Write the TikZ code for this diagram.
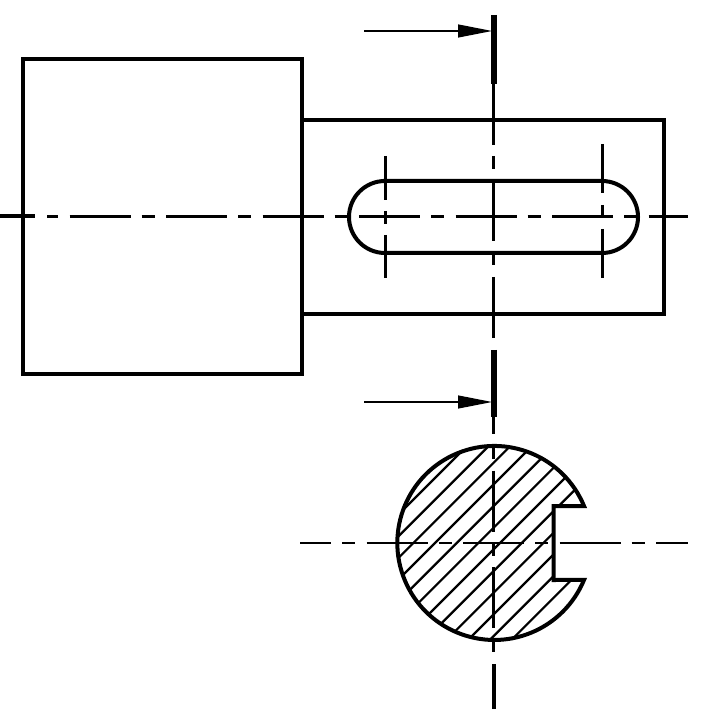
\documentclass[tikz,border=0pt]{standalone}
\usepackage{xcolor}
\usepackage{tikz}
\usetikzlibrary{arrows.meta}
\tikzset{
  outline/.style={line width=0.04cm,line join=miter},
  centerline/.style={line width=0.022cm,dash pattern=on 0.61cm off 0.11cm on 0.13cm off 0.115cm},
  cutmark/.style={line width=0.06cm},
  viewarrow/.style={line width=0.012cm,-{Triangle[length=0.34cm,width=0.13cm]}},
  hatchline/.style={line width=0.022cm}
}
\begin{document}
\begin{tikzpicture}
\useasboundingbox (0,0) rectangle (7.03,-7.11);
% section hatching
\begin{scope}
  \clip (5.84,-5.06) arc (22.4:337.6:0.97) -- (5.535,-5.80) -- (5.535,-5.06) -- cycle;
  \foreach \c in {9.13,9.347,9.563,9.78,9.997,10.213,10.43,10.647,10.863,11.08,11.297,11.513}
    \draw[hatchline] ({\c-4.4},-4.4)--({\c-6.6},-6.6);
\end{scope}
% views
\draw[outline] (0.225,-0.595) rectangle (3.015,-3.74);
\draw[outline] (3.015,-1.2)--(6.635,-1.2)--(6.635,-3.14)--(3.015,-3.14);
\draw[outline] (3.85,-1.81)--(6.02,-1.81) arc (90:-90:0.36)--(3.85,-2.53) arc (270:90:0.36)--cycle;
\draw[outline] (5.84,-5.06) arc (22.4:337.6:0.97)--(5.535,-5.80)--(5.535,-5.06)--cycle;
% center lines
\draw[line width=0.04cm] (0,-2.165)--(0.35,-2.165);
\draw[centerline,dash phase=0.74cm] (0.47,-2.165)--(6.88,-2.165);
\draw[centerline,dash phase=0.30cm] (3.00,-5.43)--(6.88,-5.43);
\draw[centerline] (4.935,-0.84)--(4.935,-3.38);
\draw[centerline,dash phase=0.72cm] (4.935,-4.46)--(4.935,-6.52);
\draw[line width=0.022cm] (4.935,-4.17)--(4.935,-4.34);
\draw[line width=0.03cm,dash pattern=on 0.44cm off 0.11cm on 0.13cm off 0.11cm on 0.43cm] (3.855,-1.56)--(3.855,-2.78);
\draw[line width=0.03cm,dash pattern=on 0.49cm off 0.12cm on 0.13cm off 0.11cm on 0.49cm] (6.025,-1.44)--(6.025,-2.78);
% cutting plane marks
\draw[cutmark] (4.935,-0.15)--(4.935,-0.84);
\draw[cutmark] (4.935,-3.50)--(4.935,-4.17);
\draw[line width=0.04cm] (4.935,-6.64)--(4.935,-7.09);
\draw[viewarrow] (3.64,-0.31)--(4.92,-0.31);
\draw[viewarrow] (3.64,-4.02)--(4.92,-4.02);
\end{tikzpicture}
\end{document}
